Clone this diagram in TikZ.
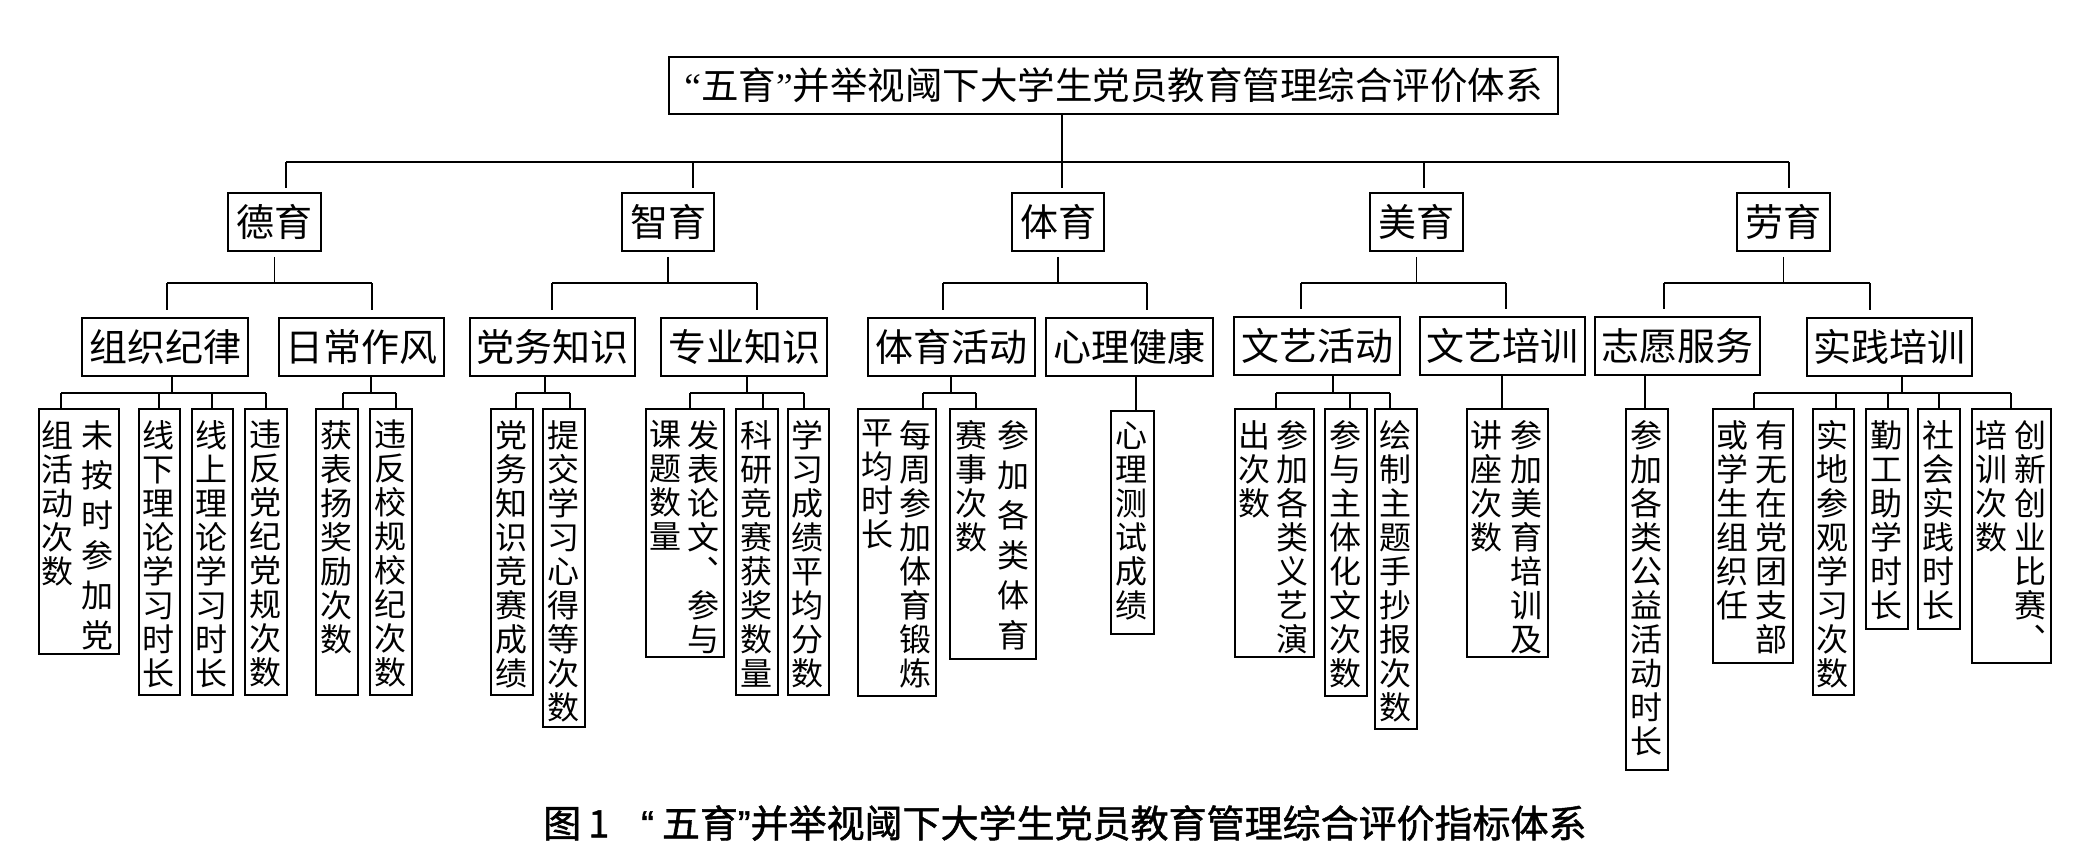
\documentclass[tikz,border=0pt]{standalone}
\usepackage{fontspec}
\setmainfont{Noto Sans CJK SC}
\newfontfamily\qserif{Liberation Serif}
\newfontfamily\qsans{Liberation Sans}[FakeBold=1.2]
\newfontfamily\capfont{Noto Sans CJK SC}[FakeBold=1.2]
\begin{document}
\begin{tikzpicture}[x=1pt,y=-1pt,
  box/.style={draw, line width=1.8pt, inner sep=0pt, font=\fontsize{38}{40}\selectfont},
  lf/.style={draw, line width=1.8pt, inner sep=0pt, anchor=north west},
  vt/.style={inner sep=0pt, anchor=north, align=center, font=\fontsize{32}{34}\selectfont},
  vtw/.style={inner sep=0pt, anchor=north, align=center, font=\fontsize{32}{40}\selectfont},
  conn/.style={line width=1.6pt},
  bus/.style={line width=2.2pt}]
\fill[white] (0,0) rectangle (2094,860);
\useasboundingbox (0,0) rectangle (2094,860);

% ---------- top ----------
\node[box, font=\fontsize{37.5}{40}\selectfont, minimum width=889, minimum height=57] (top) at (1113.5,85.5) {{\qserif “}五育{\qserif ”}并举视阈下大学生党员教育管理综合评价体系};

% ---------- level 1 ----------
\node[box, minimum width=93, minimum height=58] (deyu)  at (274.5,222) {德育};
\node[box, minimum width=92, minimum height=58] (zhiyu) at (668,222) {智育};
\node[box, minimum width=92, minimum height=58] (tiyu)  at (1058,222) {体育};
\node[box, minimum width=93, minimum height=58] (meiyu) at (1416.5,222) {美育};
\node[box, minimum width=93, minimum height=58] (laoyu) at (1783.5,222) {劳育};

\coordinate (t0) at (1062,162);
\coordinate (dA) at (286,162);
\coordinate (dB) at (693,162);
\coordinate (dC) at (1062,162);
\coordinate (dD) at (1424,162);
\coordinate (dE) at (1789,162);
\draw[conn] (top.south -| t0) -- (t0);
\draw[bus] (dA) -- (dE);
\draw[conn, shorten >=4pt] (dA) -- (dA |- deyu.north);
\draw[conn, shorten >=4pt] (dB) -- (dB |- zhiyu.north);
\draw[conn, shorten >=4pt] (dC) -- (dC |- tiyu.north);
\draw[conn, shorten >=4pt] (dD) -- (dD |- meiyu.north);
\draw[conn, shorten >=4pt] (dE) -- (dE |- laoyu.north);

% ---------- level 2 ----------
\node[box, minimum width=166, minimum height=58] (zzjl) at (165,347) {组织纪律};
\node[box, minimum width=165, minimum height=58] (rczf) at (361.5,347) {日常作风};
\node[box, minimum width=165, minimum height=58] (dwzs) at (552.5,347) {党务知识};
\node[box, minimum width=166, minimum height=58] (zyzs) at (744,347) {专业知识};
\node[box, minimum width=167, minimum height=58] (tyhd) at (951.5,347) {体育活动};
\node[box, minimum width=167, minimum height=58] (xljk) at (1129.5,347) {心理健康};
\node[box, minimum width=166, minimum height=58] (wyhd) at (1317,346) {文艺活动};
\node[box, minimum width=165, minimum height=58] (wypx) at (1502.5,346) {文艺培训};
\node[box, minimum width=165, minimum height=58] (zyfw) at (1677.5,346) {志愿服务};
\node[box, minimum width=165, minimum height=58] (sjpx) at (1889.5,347) {实践培训};

\coordinate (g1a) at (167,283);  \coordinate (g1b) at (372,283);
\coordinate (g2a) at (552,283);  \coordinate (g2b) at (757,283);
\coordinate (g3a) at (943,283);  \coordinate (g3b) at (1147,283);
\coordinate (g4a) at (1301,283); \coordinate (g4b) at (1506,283);
\coordinate (g5a) at (1664,283); \coordinate (g5b) at (1870,283);
\draw[conn, shorten <=5pt] (deyu.south) -- (deyu.south |- g1a);
\draw[conn, shorten <=5pt] (zhiyu.south) -- (zhiyu.south |- g2a);
\draw[conn, shorten <=5pt] (tiyu.south) -- (tiyu.south |- g3a);
\draw[conn, shorten <=5pt] (meiyu.south) -- (meiyu.south |- g4a);
\draw[conn, shorten <=5pt] (laoyu.south) -- (laoyu.south |- g5a);
\draw[bus] (g1a) -- (g1b);
\draw[bus] (g2a) -- (g2b);
\draw[bus] (g3a) -- (g3b);
\draw[bus] (g4a) -- (g4b);
\draw[bus] (g5a) -- (g5b);
\draw[conn, shorten >=7pt] (g1a) -- (g1a |- zzjl.north);
\draw[conn, shorten >=7pt] (g1b) -- (g1b |- rczf.north);
\draw[conn, shorten >=7pt] (g2a) -- (g2a |- dwzs.north);
\draw[conn, shorten >=7pt] (g2b) -- (g2b |- zyzs.north);
\draw[conn, shorten >=7pt] (g3a) -- (g3a |- tyhd.north);
\draw[conn, shorten >=7pt] (g3b) -- (g3b |- xljk.north);
\draw[conn, shorten >=7pt] (g4a) -- (g4a |- wyhd.north);
\draw[conn, shorten >=7pt] (g4b) -- (g4b |- wypx.north);
\draw[conn, shorten >=7pt] (g5a) -- (g5a |- zyfw.north);
\draw[conn, shorten >=7pt] (g5b) -- (g5b |- sjpx.north);

% ---------- leaves ----------
% 组织纪律
\node[lf, minimum width=80, minimum height=245] (l1) at (38,408) {};
\node[vtw] (l1r) at (97,420) {未\\按\\时\\参\\加\\党};
\node[vt]  (l1l) at (57,420) {组\\活\\动\\次\\数};
\node[lf, minimum width=41, minimum height=286] (l2) at (138,408) {};
\node[vt] (l2t) at (158.5,420) {线\\下\\理\\论\\学\\习\\时\\长};
\node[lf, minimum width=41, minimum height=286] (l3) at (191,408) {};
\node[vt] (l3t) at (211.5,420) {线\\上\\理\\论\\学\\习\\时\\长};
\node[lf, minimum width=42, minimum height=286] (l4) at (244,408) {};
\node[vt] (l4t) at (265,420) {违\\反\\党\\纪\\党\\规\\次\\数};
% 日常作风
\node[lf, minimum width=42, minimum height=286] (l5) at (315,408) {};
\node[vt] (l5t) at (336,420) {获\\表\\扬\\奖\\励\\次\\数};
\node[lf, minimum width=42, minimum height=286] (l6) at (369,408) {};
\node[vt] (l6t) at (390,420) {违\\反\\校\\规\\校\\纪\\次\\数};
% 党务知识
\node[lf, minimum width=42, minimum height=286] (l7) at (490,408) {};
\node[vt] (l7t) at (511,420) {党\\务\\知\\识\\竞\\赛\\成\\绩};
\node[lf, minimum width=42, minimum height=318] (l8) at (542,408) {};
\node[vt] (l8t) at (563,420) {提\\交\\学\\习\\心\\得\\等\\次\\数};
% 专业知识
\node[lf, minimum width=78, minimum height=248] (l9) at (645,408) {};
\node[vt] (l9r) at (703,420) {发\\表\\论\\文\\︑\\参\\与};
\node[vt] (l9l) at (665,420) {课\\题\\数\\量};
\node[lf, minimum width=42, minimum height=286] (l10) at (735,408) {};
\node[vt] (l10t) at (756,420) {科\\研\\竞\\赛\\获\\奖\\数\\量};
\node[lf, minimum width=41, minimum height=286] (l11) at (787,408) {};
\node[vt] (l11t) at (807.5,420) {学\\习\\成\\绩\\平\\均\\分\\数};
% 体育活动
\node[lf, minimum width=78, minimum height=287] (l12) at (857,408) {};
\node[vt] (l12r) at (915,420) {每\\周\\参\\加\\体\\育\\锻\\炼};
\node[vt] (l12l) at (877,420) {平\\均\\时\\长};
\node[lf, minimum width=86, minimum height=250] (l13) at (949,408) {};
\node[vtw] (l13r) at (1013,420) {参\\加\\各\\类\\体\\育};
\node[vt]  (l13l) at (971,420) {赛\\事\\次\\数};
% 心理健康
\node[lf, minimum width=43, minimum height=223] (l14) at (1110,410) {};
\node[vt] (l14t) at (1131.5,422) {心\\理\\测\\试\\成\\绩};
% 文艺活动
\node[lf, minimum width=79, minimum height=248] (l15) at (1234,408) {};
\node[vt] (l15r) at (1292,420) {参\\加\\各\\类\\义\\艺\\演};
\node[vt] (l15l) at (1254,420) {出\\次\\数};
\node[lf, minimum width=42, minimum height=287] (l16) at (1324,408) {};
\node[vt] (l16t) at (1345,420) {参\\与\\主\\体\\化\\文\\次\\数};
\node[lf, minimum width=42, minimum height=320] (l17) at (1374,408) {};
\node[vt] (l17t) at (1395,420) {绘\\制\\主\\题\\手\\抄\\报\\次\\数};
% 文艺培训
\node[lf, minimum width=81, minimum height=248] (l18) at (1466,408) {};
\node[vt] (l18r) at (1526,420) {参\\加\\美\\育\\培\\训\\及};
\node[vt] (l18l) at (1486,420) {讲\\座\\次\\数};
% 志愿服务
\node[lf, minimum width=42, minimum height=361] (l19) at (1625,408) {};
\node[vt] (l19t) at (1646,420) {参\\加\\各\\类\\公\\益\\活\\动\\时\\长};
% 实践培训
\node[lf, minimum width=80, minimum height=254] (l20) at (1712,408) {};
\node[vt] (l20r) at (1771,420) {有\\无\\在\\党\\团\\支\\部};
\node[vt] (l20l) at (1732,420) {或\\学\\生\\组\\织\\任};
\node[lf, minimum width=41, minimum height=286] (l21) at (1812,408) {};
\node[vt] (l21t) at (1832.5,420) {实\\地\\参\\观\\学\\习\\次\\数};
\node[lf, minimum width=42, minimum height=220] (l22) at (1865,408) {};
\node[vt] (l22t) at (1886,420) {勤\\工\\助\\学\\时\\长};
\node[lf, minimum width=42, minimum height=220] (l23) at (1917,408) {};
\node[vt] (l23t) at (1938,420) {社\\会\\实\\践\\时\\长};
\node[lf, minimum width=79, minimum height=254] (l24) at (1971,408) {};
\node[vt] (l24r) at (2030,420) {创\\新\\创\\业\\比\\赛\\︑};
\node[vt] (l24l) at (1991,420) {培\\训\\次\\数};

% ---------- level 3 connectors ----------
\coordinate (h1a) at (61,393);   \coordinate (h1b) at (159,393);  \coordinate (h1c) at (212,393); \coordinate (h1d) at (266,393);
\coordinate (h2a) at (343,393);  \coordinate (h2b) at (396,393);
\coordinate (h3a) at (516,393);  \coordinate (h3b) at (570,393);
\coordinate (h4a) at (690,393);  \coordinate (h4b) at (763,393);  \coordinate (h4c) at (804,393);
\coordinate (h5a) at (923,393);  \coordinate (h5b) at (976,393);
\coordinate (h7a) at (1276,393); \coordinate (h7b) at (1350,393); \coordinate (h7c) at (1390,393);
\coordinate (h9a) at (1754,393); \coordinate (h9b) at (1836,393); \coordinate (h9c) at (1888,393); \coordinate (h9d) at (1939,393); \coordinate (h9e) at (2011,393);
\coordinate (k1) at (172,0); \coordinate (k2) at (371,0); \coordinate (k3) at (545,0);
\coordinate (k4) at (747,0); \coordinate (k5) at (951,0); \coordinate (k6) at (1136,0);
\coordinate (k7) at (1333,0); \coordinate (k8) at (1502,0); \coordinate (k9) at (1645,0);
\coordinate (k10) at (1902,0);

\draw[conn] (zzjl.south -| k1) -- (h1a -| k1);
\draw[conn] (rczf.south -| k2) -- (h2a -| k2);
\draw[conn] (dwzs.south -| k3) -- (h3a -| k3);
\draw[conn] (zyzs.south -| k4) -- (h4a -| k4);
\draw[conn] (tyhd.south -| k5) -- (h5a -| k5);
\draw[conn] (xljk.south -| k6) -- (l14.north -| k6);
\draw[conn] (wyhd.south -| k7) -- (h7a -| k7);
\draw[conn] (wypx.south -| k8) -- (l18.north -| k8);
\draw[conn] (zyfw.south -| k9) -- (l19.north -| k9);
\draw[conn] (sjpx.south -| k10) -- (h9a -| k10);

\draw[conn] (h1a) -- (h1d);
\draw[conn] (h2a) -- (h2b);
\draw[conn] (h3a) -- (h3b);
\draw[conn] (h4a) -- (h4c);
\draw[conn] (h5a) -- (h5b);
\draw[conn] (h7a) -- (h7c);
\draw[conn] (h9a) -- (h9e);

\draw[conn] (h1a) -- (h1a |- l1.north);
\draw[conn] (h1b) -- (h1b |- l2.north);
\draw[conn] (h1c) -- (h1c |- l3.north);
\draw[conn] (h1d) -- (h1d |- l4.north);
\draw[conn] (h2a) -- (h2a |- l5.north);
\draw[conn] (h2b) -- (h2b |- l6.north);
\draw[conn] (h3a) -- (h3a |- l7.north);
\draw[conn] (h3b) -- (h3b |- l8.north);
\draw[conn] (h4a) -- (h4a |- l9.north);
\draw[conn] (h4b) -- (h4b |- l10.north);
\draw[conn] (h4c) -- (h4c |- l11.north);
\draw[conn] (h5a) -- (h5a |- l12.north);
\draw[conn] (h5b) -- (h5b |- l13.north);
\draw[conn] (h7a) -- (h7a |- l15.north);
\draw[conn] (h7b) -- (h7b |- l16.north);
\draw[conn] (h7c) -- (h7c |- l17.north);
\draw[conn] (h9a) -- (h9a |- l20.north);
\draw[conn] (h9b) -- (h9b |- l21.north);
\draw[conn] (h9c) -- (h9c |- l22.north);
\draw[conn] (h9d) -- (h9d |- l23.north);
\draw[conn] (h9e) -- (h9e |- l24.north);

% ---------- caption ----------
\node[inner sep=0pt, anchor=west, font=\capfont\fontsize{38}{40}\selectfont] (cap) at (543,823) {图\hspace{7pt}1\hspace{32pt}{\qsans “}\hspace{8pt}五育{\qsans ”}并举视阈下大学生党员教育管理综合评价指标体系};
\end{tikzpicture}
\end{document}
